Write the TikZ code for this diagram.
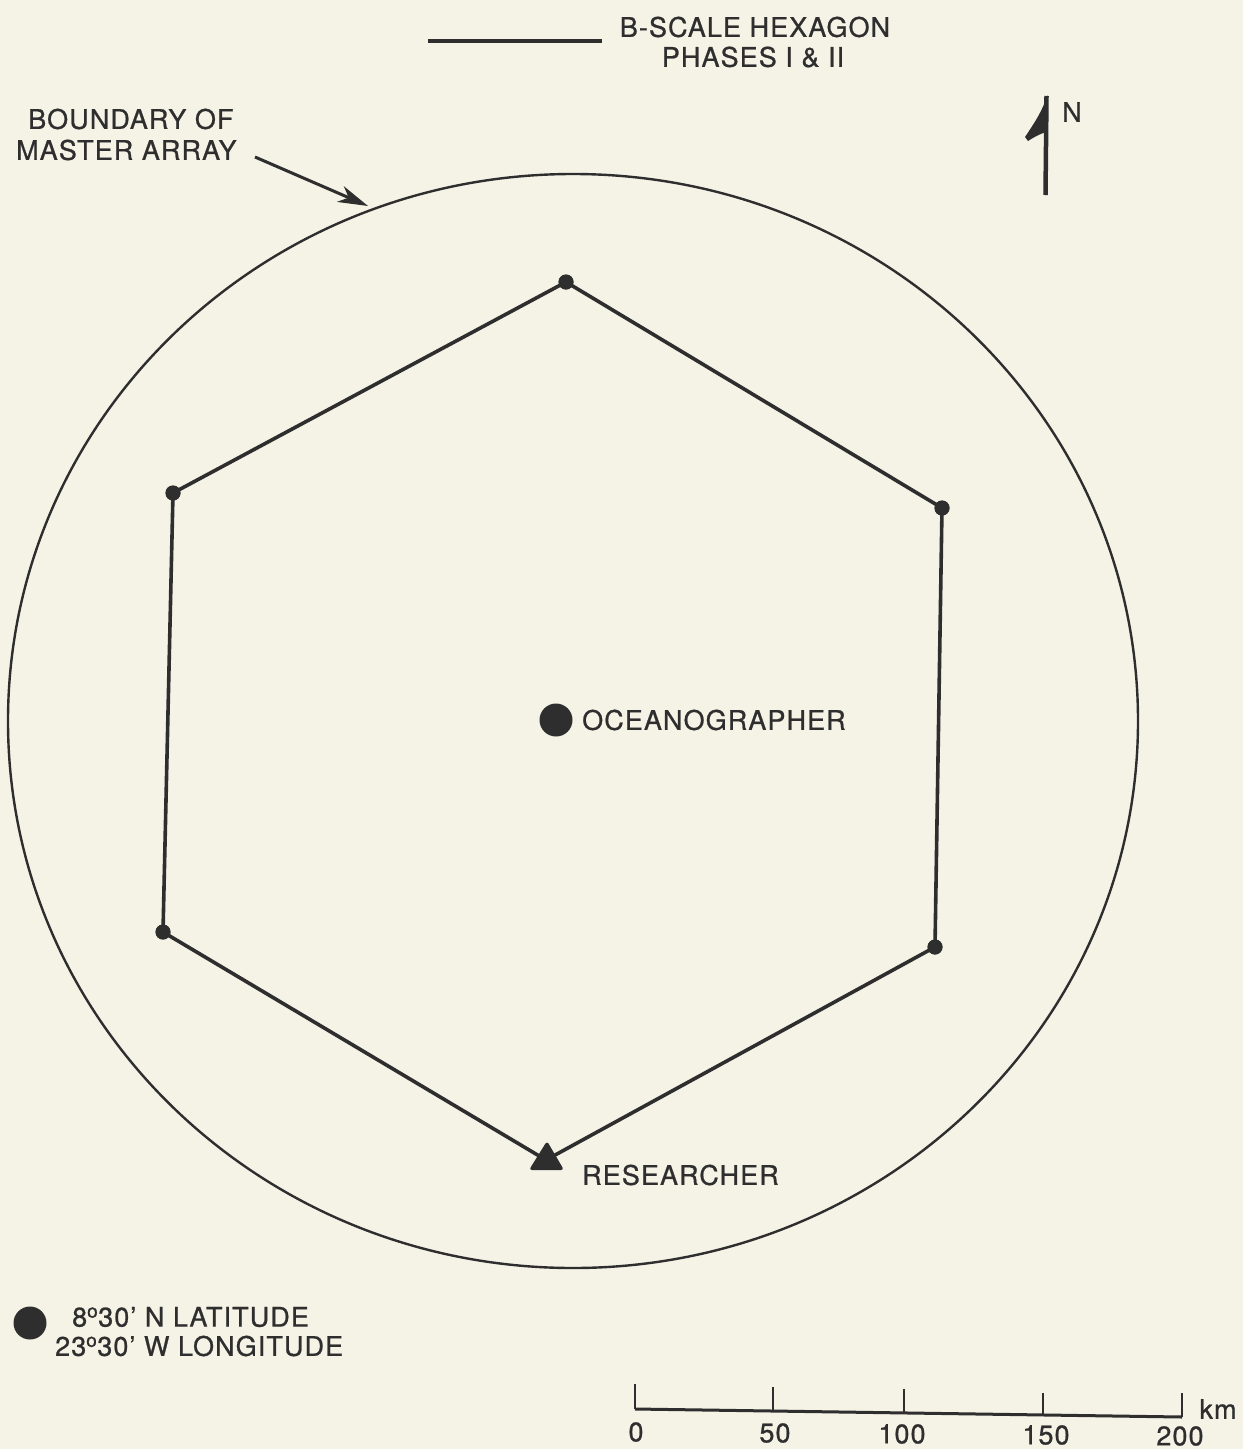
\documentclass[tikz,border=0pt]{standalone}
\usepackage{fontspec}
\setmainfont{TeX Gyre Heros}[LetterSpace=4,FakeBold=0.8]
\usetikzlibrary{arrows.meta}
\definecolor{paper}{HTML}{F5F3E6}
\definecolor{ink}{HTML}{2E2E2E}
\tikzset{
  lbl/.style={text=ink,font=\fontsize{27}{30}\selectfont,inner sep=0pt},
  vtx/.style={circle,fill=ink,minimum size=15pt,inner sep=0pt},
  hexedge/.style={draw=ink,line width=3.6pt},
  bigdot/.style={circle,fill=ink,minimum size=33pt,inner sep=0pt},
  thin/.style={draw=ink,line width=2.4pt},
}
\begin{document}
\begin{tikzpicture}[x=1pt,y=-1pt]
\fill[paper] (0,0) rectangle (1243,1449);
\useasboundingbox (0,0) rectangle (1243,1449);

% legend top
\coordinate (la) at (428,41);
\coordinate (lb) at (602,41);
\draw[hexedge] (la) -- (lb);
\node[lbl] (leg1) at (755,27) {B-SCALE HEXAGON};
\node[lbl] (leg2) at (753,57) {PHASES I \& II};

% north arrow
\coordinate (ntop) at (1046.5,96);
\coordinate (nbot) at (1045.5,195);
\draw[draw=ink,line width=4.5pt] (ntop) -- (nbot);
\fill[ink] (1047.5,95) .. controls (1042,112) and (1033,125) .. (1025,137)
  -- (1028,141) .. controls (1034,137) and (1040,134) .. (1046,132) -- cycle;
\node[lbl] (N) at (1072,112) {N};

% boundary
\draw[thin] (573,721) ellipse [x radius=565, y radius=547];
\node[lbl,anchor=west] (bo) at (28,119) {BOUNDARY OF};
\node[lbl,anchor=west] (ma) at (16,150) {MASTER ARRAY};
\coordinate (astart) at (255,157);
\coordinate (aend) at (368,206);
\draw[draw=ink,line width=3pt,-{Stealth[length=30pt,width=17pt,inset=9pt]}] (astart) -- (aend);

% hexagon
\node[vtx] (v1) at (566,282) {};
\node[vtx] (v2) at (942,508) {};
\node[vtx] (v3) at (935,947) {};
\coordinate (v4) at (546,1160);
\node[vtx] (v5) at (163,932) {};
\node[vtx] (v6) at (173,493) {};
\draw[hexedge,line join=round] (v1.center) -- (v2.center) -- (v3.center) -- (v4) -- (v5.center) -- (v6.center) -- cycle;
\node[vtx] at (v1) {};
\node[vtx] at (v2) {};
\node[vtx] at (v3) {};
\node[vtx] at (v5) {};
\node[vtx] at (v6) {};

% researcher
\fill[ink,rounded corners=3pt] (547,1141) -- (564,1170) -- (529,1170) -- cycle;
\node[lbl,anchor=west] (res) at (582,1175) {RESEARCHER};

% oceanographer
\node[bigdot] (oc) at (556,720) {};
\node[lbl,anchor=west] (ocl) at (582,720) {OCEANOGRAPHER};

% position legend
\node[bigdot] (pd) at (30,1323) {};
\node[lbl,anchor=west] (lat) at (72,1317) {8\textsuperscript{o}30\kern1pt’ N LATITUDE};
\node[lbl,anchor=west] (lon) at (55,1346) {23\textsuperscript{o}30\kern1pt’ W LONGITUDE};

% scale bar
\coordinate (s0) at (635,1409);
\coordinate (s1) at (773,1411);
\coordinate (s2) at (904,1413);
\coordinate (s3) at (1043,1415);
\coordinate (s4) at (1182,1417);
\draw[thin,line width=3pt] (s0) -- (s4);
\draw[thin] (s0) -- ++(0,-25);
\draw[thin] (s1) -- ++(0,-24);
\draw[thin] (s2) -- ++(0,-24);
\draw[thin] (s3) -- ++(0,-22);
\draw[thin] (s4) -- ++(0,-24);
\node[lbl] (t0) at (636,1432) {0};
\node[lbl] (t1) at (775,1433) {50};
\node[lbl] (t2) at (902,1434) {100};
\node[lbl] (t3) at (1046,1435) {150};
\node[lbl] (t4) at (1180,1436) {200};
\node[lbl] (km) at (1218,1409) {km};
\end{tikzpicture}
\end{document}
